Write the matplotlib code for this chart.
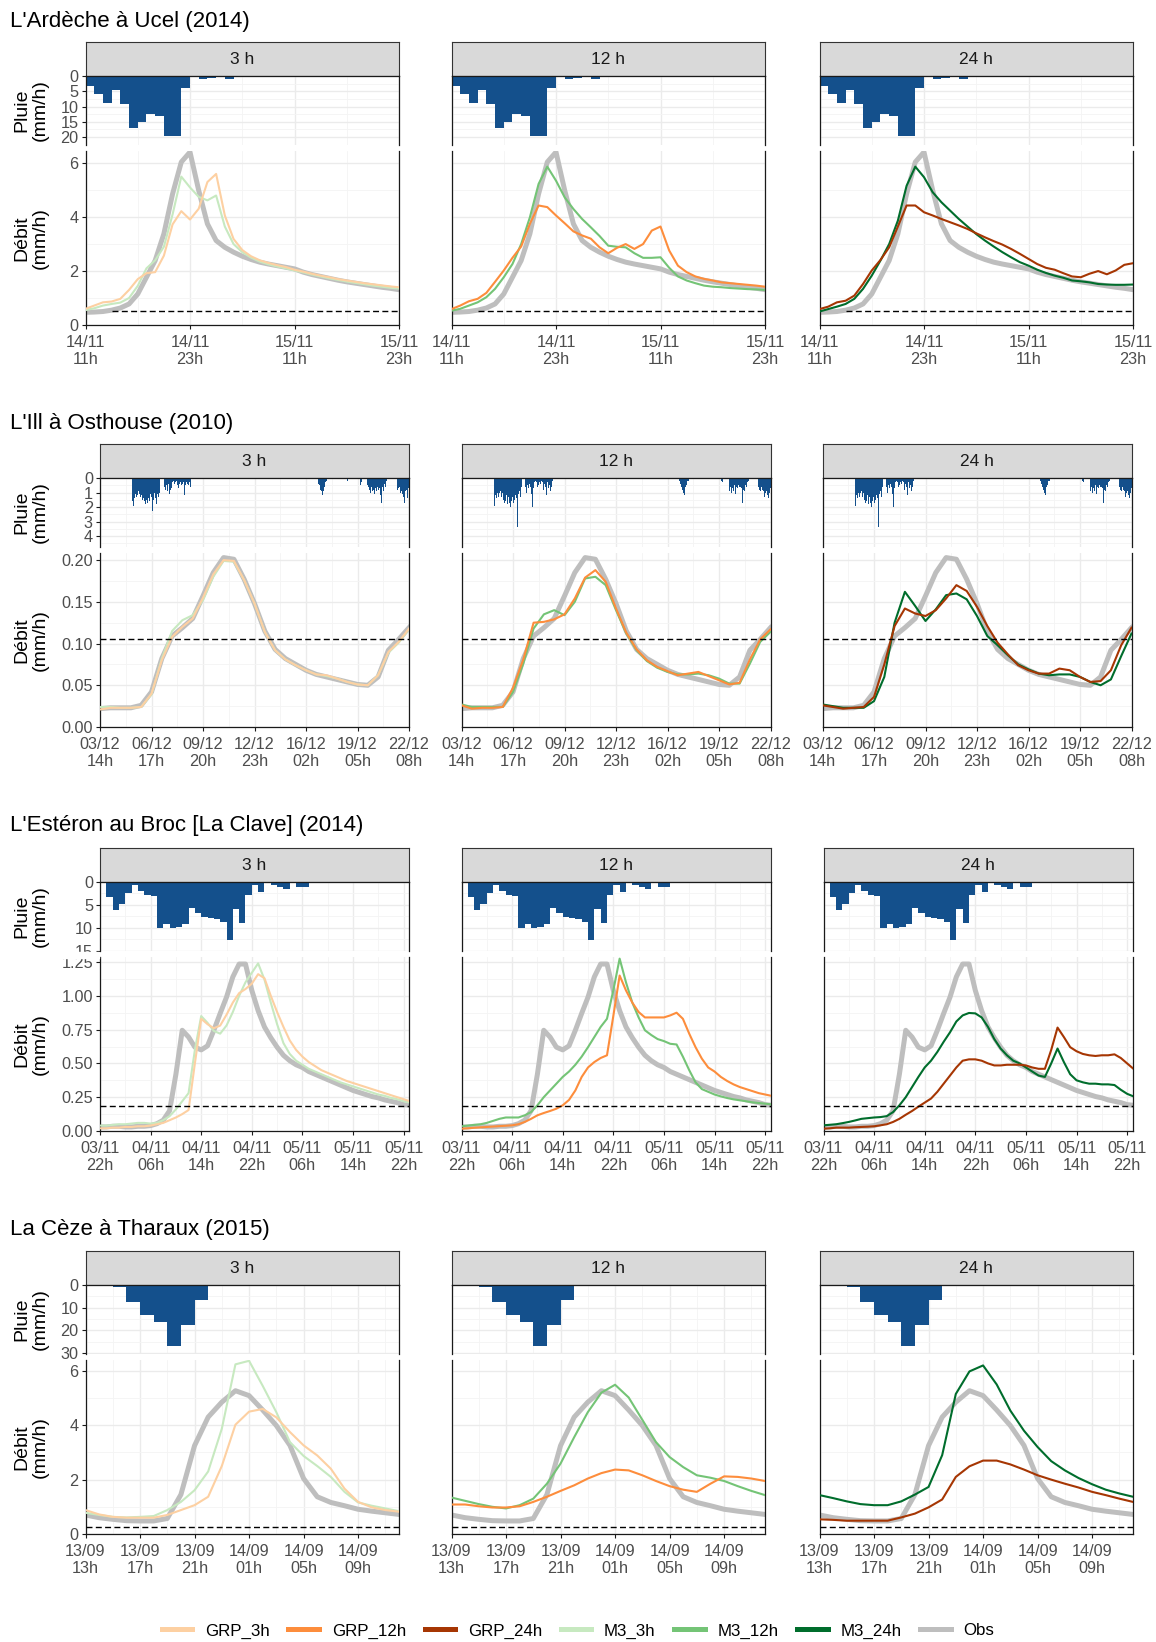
import numpy as np
import matplotlib
matplotlib.use("Agg")
import matplotlib.pyplot as plt
from matplotlib.lines import Line2D
from matplotlib.patches import Rectangle

plt.rcParams['font.family'] = ['Liberation Sans', 'DejaVu Sans']

W, H = 1156, 1642
TXT = '#4D4D4D'
AX = '#1A1A1A'
RAIN_COL = '#14508C'

colours = {'GRP_3h': '#FDD0A2', 'GRP_12h': '#FD8D3C', 'GRP_24h': '#A63603',
           'M3_3h': '#C7E9C0', 'M3_12h': '#74C476', 'M3_24h': '#006D2C',
           'Obs': '#BEBEBE'}
durations = ['3 h', '12 h', '24 h']
model_keys = [('M3_3h', 'GRP_3h'), ('M3_12h', 'GRP_12h'), ('M3_24h', 'GRP_24h')]

# ---------------- L'Ardèche à Ucel (2014), pas horaire depuis 14/11 11h
ard_xticks = [0, 12, 24, 36]
ard_xlabels = ['14/11\n11h', '14/11\n23h', '15/11\n11h', '15/11\n23h']
ard_rain = [3.4, 6.0, 9.0, 4.5, 9.3, 17.0, 15.0, 12.5, 13.0, 19.7, 19.7, 3.8,
            0, 1.1, 0.8, 0, 0.9, 0, 0, 0, 0, 0, 0, 0, 0, 0, 0, 0, 0, 0, 0, 0, 0, 0, 0, 0]
ard_obs = [0.47, 0.48, 0.50, 0.55, 0.63, 0.78, 1.15, 1.77, 2.39, 3.38, 4.86, 6.04, 6.41,
           4.99, 3.75, 3.13, 2.88, 2.70, 2.55, 2.43, 2.33, 2.26, 2.20, 2.14, 2.08, 1.96,
           1.87, 1.80, 1.73, 1.66, 1.60, 1.55, 1.50, 1.45, 1.40, 1.36, 1.31]
ard_grp_3h = [0.60, 0.72, 0.84, 0.87, 0.97, 1.30, 1.70, 1.92, 1.96, 2.57, 3.73, 4.22, 3.91,
              4.31, 5.30, 5.60, 4.06, 3.19, 2.78, 2.55, 2.40, 2.30, 2.22, 2.15, 2.05, 1.98,
              1.90, 1.83, 1.77, 1.70, 1.65, 1.60, 1.55, 1.51, 1.47, 1.43, 1.40]
ard_m3_3h = [0.55, 0.62, 0.72, 0.78, 0.83, 1.00, 1.45, 2.10, 2.40, 2.90, 4.10, 5.50, 5.10,
             4.75, 4.62, 4.80, 3.65, 3.00, 2.70, 2.50, 2.35, 2.25, 2.17, 2.10, 2.02, 1.95,
             1.87, 1.80, 1.73, 1.67, 1.61, 1.56, 1.51, 1.46, 1.42, 1.38, 1.35]
ard_grp_12h = [0.59, 0.72, 0.88, 0.97, 1.19, 1.60, 2.02, 2.49, 2.91, 3.75, 4.43, 4.37, 4.06,
               3.77, 3.47, 3.32, 3.20, 2.88, 2.66, 2.86, 3.00, 2.82, 3.00, 3.50, 3.65, 2.76,
               2.20, 1.96, 1.80, 1.71, 1.65, 1.58, 1.55, 1.52, 1.49, 1.46, 1.42]
ard_m3_12h = [0.53, 0.60, 0.72, 0.84, 1.03, 1.34, 1.77, 2.26, 3.00, 3.99, 5.23, 5.87, 5.35,
              4.73, 4.30, 3.93, 3.62, 3.30, 2.94, 2.90, 2.88, 2.66, 2.49, 2.49, 2.51, 2.12,
              1.80, 1.65, 1.55, 1.46, 1.42, 1.40, 1.37, 1.35, 1.33, 1.32, 1.30]
ard_grp_24h = [0.59, 0.68, 0.84, 0.90, 1.09, 1.52, 2.02, 2.41, 2.88, 3.65, 4.43, 4.43, 4.18,
               4.06, 3.93, 3.81, 3.69, 3.56, 3.40, 3.25, 3.11, 2.98, 2.82, 2.64, 2.45, 2.26,
               2.12, 2.05, 1.92, 1.80, 1.77, 1.90, 2.00, 1.88, 2.02, 2.23, 2.29]
ard_m3_24h = [0.50, 0.59, 0.68, 0.78, 0.97, 1.34, 1.83, 2.39, 3.00, 3.87, 5.16, 5.87, 5.48,
              4.92, 4.55, 4.24, 3.93, 3.65, 3.37, 3.13, 2.91, 2.70, 2.51, 2.33, 2.20, 2.05,
              1.93, 1.83, 1.75, 1.65, 1.62, 1.58, 1.52, 1.50, 1.49, 1.49, 1.50]
ard_seuil, ard_seuil_debut = 0.51, 3

# ---------------- L'Ill à Osthouse (2010), débits tous les 15 h depuis 03/12 14h
ill_xticks = [0, 75, 150, 225, 300, 375, 450]
ill_xlabels = ['03/12\n14h', '06/12\n17h', '09/12\n20h', '12/12\n23h',
               '16/12\n02h', '19/12\n05h', '22/12\n08h']
ill_rain_start = [47, 93, 106, 163, 219, 253, 316, 340, 358, 378, 389, 432]
ill_rain_bursts = [
    [1.6, 1.9, 1.2, 1.4, 1.1, 1.0, 1.3, 1.2, 1.0, 0.9, 1.1, 1.3, 1.0, 1.2, 1.5, 1.7, 1.4,
     1.6, 1.2, 1.8, 1.5, 1.3, 1.7, 1.4, 2.0, 1.6, 1.1, 1.3, 1.7, 2.3, 1.5, 1.2, 1.0, 1.4,
     3.4, 1.8, 1.1, 0.9, 1.3, 1.0, 0.6],
    [0.6, 1.0, 0.8, 0.5, 0.7, 0.9, 0.4, 0.6, 1.1, 0.8, 2.0, 0.7, 0.3],
    [0.3, 0.2, 0.4, 0.3, 0.6, 0.2, 0.5, 0.3, 0.7, 0.4, 0.2, 0.3, 0.5, 0.8, 0.4, 0.3, 0.6,
     1.2, 0.5, 0.3, 0.7, 0.4, 0.5, 0.9, 0.3, 0.6, 0.2, 0.1],
    [0.05, 0.1],
    [0.05, 0.08],
    [0.06],
    [0.1, 0.2, 0.4, 0.5, 0.6, 0.8, 0.9, 1.0, 1.2, 0.9, 0.6, 0.5, 0.3, 0.2, 0.2, 0.1, 0.1,
     0.05, 0.1, 0.05, 0.05],
    [0.05, 0.05, 0.08],
    [0.1, 0.1, 0.2, 0.1, 0.1],
    [0.2, 0.5, 0.3, 0.1],
    [0.5, 0.9, 0.6, 0.8, 1.0, 0.7, 0.6, 0.9, 0.5, 0.8, 1.1, 0.6, 0.7, 0.9, 0.5, 0.6, 0.8,
     0.6, 0.7, 1.2, 1.7, 0.8, 0.6, 0.9, 0.5, 0.4, 0.6, 0.3, 0.2, 0.1],
    [0.6, 0.8, 0.7, 0.9, 0.6, 1.0, 0.8, 0.9, 1.1, 1.3, 1.0, 1.7, 0.9, 1.2, 0.8, 1.4, 1.0, 0.7],
]
ill_rain_hours = 450
ill_obs = [0.022, 0.023, 0.023, 0.023, 0.026, 0.042, 0.082, 0.109, 0.119, 0.130, 0.157,
           0.185, 0.203, 0.201, 0.177, 0.148, 0.115, 0.093, 0.082, 0.075, 0.068, 0.063,
           0.060, 0.057, 0.054, 0.051, 0.050, 0.060, 0.092, 0.105, 0.119]
ill_grp_3h = [0.021, 0.023, 0.023, 0.023, 0.024, 0.040, 0.080, 0.108, 0.120, 0.130, 0.155,
              0.183, 0.200, 0.199, 0.176, 0.148, 0.114, 0.092, 0.081, 0.074, 0.068, 0.063,
              0.062, 0.058, 0.054, 0.051, 0.050, 0.062, 0.090, 0.102, 0.118]
ill_m3_3h = [0.024, 0.024, 0.023, 0.023, 0.024, 0.039, 0.082, 0.115, 0.128, 0.134, 0.152,
             0.180, 0.199, 0.198, 0.176, 0.148, 0.114, 0.092, 0.081, 0.074, 0.068, 0.063,
             0.061, 0.058, 0.054, 0.051, 0.050, 0.062, 0.089, 0.101, 0.117]
ill_grp_12h = [0.026, 0.022, 0.023, 0.023, 0.024, 0.047, 0.081, 0.125, 0.126, 0.129, 0.135,
               0.154, 0.179, 0.188, 0.174, 0.142, 0.113, 0.093, 0.080, 0.072, 0.067, 0.062,
               0.064, 0.066, 0.061, 0.056, 0.051, 0.053, 0.081, 0.105, 0.117]
ill_m3_12h = [0.027, 0.024, 0.024, 0.024, 0.024, 0.042, 0.076, 0.118, 0.135, 0.140, 0.134,
              0.150, 0.178, 0.180, 0.170, 0.140, 0.112, 0.092, 0.079, 0.071, 0.066, 0.063,
              0.063, 0.064, 0.062, 0.058, 0.052, 0.052, 0.076, 0.102, 0.114]
ill_grp_24h = [0.026, 0.024, 0.022, 0.023, 0.024, 0.036, 0.075, 0.121, 0.142, 0.136, 0.133,
               0.140, 0.154, 0.170, 0.163, 0.144, 0.121, 0.101, 0.087, 0.074, 0.068, 0.064,
               0.064, 0.070, 0.068, 0.060, 0.054, 0.055, 0.068, 0.098, 0.119]
ill_m3_24h = [0.027, 0.025, 0.023, 0.023, 0.023, 0.031, 0.060, 0.125, 0.162, 0.145, 0.127,
              0.141, 0.158, 0.160, 0.153, 0.133, 0.109, 0.098, 0.086, 0.075, 0.069, 0.064,
              0.062, 0.063, 0.063, 0.060, 0.054, 0.050, 0.057, 0.085, 0.112]
ill_seuil, ill_seuil_debut = 0.106, 0

# ---------------- L'Estéron au Broc [La Clave] (2014), pas horaire depuis 03/11 22h
est_xticks = [0, 8, 16, 24, 32, 40, 48]
est_xlabels = ['03/11\n22h', '04/11\n06h', '04/11\n14h', '04/11\n22h',
               '05/11\n06h', '05/11\n14h', '05/11\n22h']
est_rain = [0, 3.2, 6.2, 4.9, 2.3, 0.7, 2.0, 2.75, 3.0, 10.0, 9.1, 10.1, 9.9, 9.3, 5.6,
            6.8, 7.7, 7.9, 8.1, 8.8, 12.8, 5.9, 9.0, 2.8, 0.6, 2.1, 0, 0.65, 1.0, 1.45,
            0.15, 1.0, 1.2, 0, 0, 0, 0, 0, 0, 0, 0, 0, 0, 0, 0, 0, 0, 0, 0]
est_obs = [0.03, 0.03, 0.035, 0.035, 0.03, 0.03, 0.035, 0.035, 0.04, 0.054, 0.08, 0.15,
           0.42, 0.745, 0.695, 0.62, 0.60, 0.63, 0.745, 0.87, 0.99, 1.14, 1.235, 1.235,
           1.04, 0.89, 0.77, 0.69, 0.62, 0.56, 0.52, 0.49, 0.47, 0.44, 0.42, 0.40, 0.38,
           0.36, 0.34, 0.32, 0.30, 0.285, 0.27, 0.255, 0.245, 0.23, 0.22, 0.21, 0.195, 0.19]
est_grp_3h = [0.02, 0.02, 0.025, 0.025, 0.03, 0.03, 0.035, 0.035, 0.04, 0.05, 0.06, 0.08,
              0.10, 0.125, 0.155, 0.50, 0.83, 0.79, 0.76, 0.78, 0.86, 0.95, 1.02, 1.05,
              1.09, 1.16, 1.13, 1.0, 0.88, 0.77, 0.67, 0.60, 0.55, 0.51, 0.48, 0.45, 0.43,
              0.41, 0.39, 0.37, 0.355, 0.34, 0.325, 0.31, 0.295, 0.28, 0.265, 0.25, 0.235, 0.22]
est_m3_3h = [0.04, 0.04, 0.045, 0.05, 0.05, 0.055, 0.06, 0.06, 0.055, 0.06, 0.08, 0.11,
             0.16, 0.22, 0.28, 0.60, 0.85, 0.80, 0.74, 0.72, 0.78, 0.88, 1.00, 1.10, 1.17,
             1.24, 1.12, 0.95, 0.79, 0.65, 0.57, 0.52, 0.49, 0.46, 0.44, 0.42, 0.40, 0.38,
             0.36, 0.345, 0.33, 0.315, 0.30, 0.285, 0.27, 0.26, 0.245, 0.235, 0.22, 0.21]
est_grp_12h = [0.017, 0.02, 0.024, 0.027, 0.03, 0.033, 0.036, 0.039, 0.042, 0.05, 0.067,
               0.09, 0.116, 0.133, 0.148, 0.165, 0.19, 0.23, 0.30, 0.40, 0.47, 0.51, 0.54,
               0.56, 0.85, 1.15, 1.04, 0.95, 0.88, 0.84, 0.84, 0.84, 0.84, 0.855, 0.875,
               0.83, 0.72, 0.62, 0.535, 0.47, 0.44, 0.40, 0.37, 0.345, 0.325, 0.31, 0.295,
               0.28, 0.27, 0.26]
est_m3_12h = [0.035, 0.04, 0.045, 0.05, 0.06, 0.075, 0.09, 0.10, 0.10, 0.10, 0.116, 0.14,
              0.19, 0.25, 0.30, 0.35, 0.40, 0.44, 0.49, 0.55, 0.62, 0.695, 0.77, 0.83, 1.04,
              1.275, 1.10, 0.95, 0.84, 0.745, 0.71, 0.68, 0.665, 0.645, 0.64, 0.55, 0.45,
              0.36, 0.31, 0.29, 0.27, 0.256, 0.244, 0.234, 0.227, 0.22, 0.212, 0.207, 0.202, 0.197]
est_grp_24h = [0.017, 0.02, 0.025, 0.025, 0.025, 0.028, 0.03, 0.032, 0.035, 0.042, 0.05,
               0.067, 0.09, 0.12, 0.148, 0.18, 0.21, 0.24, 0.29, 0.35, 0.41, 0.47, 0.52,
               0.53, 0.53, 0.52, 0.50, 0.485, 0.485, 0.49, 0.49, 0.49, 0.485, 0.47, 0.46,
               0.46, 0.60, 0.765, 0.695, 0.62, 0.59, 0.57, 0.56, 0.555, 0.56, 0.56, 0.567,
               0.54, 0.50, 0.46]
est_m3_24h = [0.042, 0.046, 0.05, 0.058, 0.067, 0.078, 0.09, 0.095, 0.10, 0.103, 0.11, 0.14,
              0.19, 0.25, 0.325, 0.40, 0.47, 0.52, 0.585, 0.66, 0.73, 0.81, 0.855, 0.873,
              0.87, 0.84, 0.77, 0.68, 0.61, 0.56, 0.52, 0.50, 0.47, 0.44, 0.41, 0.40, 0.50,
              0.61, 0.51, 0.42, 0.375, 0.36, 0.35, 0.35, 0.345, 0.345, 0.34, 0.305, 0.275, 0.256]
est_seuil, est_seuil_debut = 0.185, 0

# ---------------- La Cèze à Tharaux (2015), pas horaire depuis 13/09 13h
cez_xticks = [0, 4, 8, 12, 16, 20]
cez_xlabels = ['13/09\n13h', '13/09\n17h', '13/09\n21h', '14/09\n01h', '14/09\n05h', '14/09\n09h']
cez_rain = [0, 0, 0.9, 7.3, 13.0, 16.3, 27.0, 17.8, 6.4, 0, 0, 0, 0, 0, 0, 0, 0, 0, 0, 0, 0, 0, 0]
cez_obs = [0.70, 0.60, 0.54, 0.49, 0.48, 0.48, 0.57, 1.45, 3.25, 4.30, 4.85, 5.27, 5.09,
           4.56, 3.99, 3.26, 2.04, 1.37, 1.16, 1.04, 0.91, 0.84, 0.78, 0.72]
cez_grp_3h = [0.88, 0.72, 0.63, 0.60, 0.60, 0.60, 0.70, 0.88, 1.06, 1.37, 2.50, 4.02, 4.50,
              4.60, 4.29, 3.75, 3.26, 2.89, 2.40, 1.67, 1.18, 0.98, 0.88, 0.82]
cez_m3_3h = [0.78, 0.70, 0.63, 0.61, 0.63, 0.66, 0.88, 1.18, 1.61, 2.30, 3.87, 6.24, 6.37,
             5.45, 4.48, 3.38, 2.87, 2.50, 2.10, 1.55, 1.16, 1.04, 0.94, 0.84]
cez_grp_12h = [1.085, 1.085, 1.02, 0.975, 0.975, 1.02, 1.18, 1.37, 1.585, 1.79, 2.04, 2.24,
               2.37, 2.34, 2.16, 1.95, 1.76, 1.63, 1.55, 1.85, 2.12, 2.10, 2.04, 1.95]
cez_m3_12h = [1.34, 1.22, 1.10, 1.00, 0.94, 1.06, 1.30, 1.85, 2.59, 3.56, 4.48, 5.20, 5.49,
              5.02, 4.20, 3.38, 2.83, 2.46, 2.16, 2.07, 1.95, 1.76, 1.585, 1.43]
cez_grp_24h = [0.54, 0.52, 0.49, 0.49, 0.49, 0.49, 0.61, 0.75, 0.98, 1.27, 2.10, 2.49, 2.70,
               2.70, 2.56, 2.37, 2.16, 2.00, 1.85, 1.71, 1.55, 1.43, 1.30, 1.18]
cez_m3_24h = [1.43, 1.32, 1.20, 1.10, 1.06, 1.06, 1.20, 1.45, 1.73, 2.90, 5.15, 5.98, 6.20,
              5.50, 4.54, 3.80, 3.20, 2.68, 2.34, 2.06, 1.83, 1.63, 1.49, 1.37]
cez_seuil, cez_seuil_debut = 0.26, 0


def build_ill_rain():
    rain = np.zeros(ill_rain_hours)
    for start, vals in zip(ill_rain_start, ill_rain_bursts):
        rain[start:start + len(vals)] = vals
    return rain


sections = [
    dict(title="L'Ardèche à Ucel (2014)", title_y=21, top=42, lefts=[85.5, 451.5, 819.5], width=313.5,
         step=1, xmax=36, xticks=ard_xticks, xlabels=ard_xlabels,
         rain=ard_rain, rain_max=22.6, rain_ticks=[0, 5, 10, 15, 20],
         q_max=6.45, q_ticks=[0, 2, 4, 6], q_fmt='{:g}', seuil=ard_seuil, seuil_debut=ard_seuil_debut,
         obs=ard_obs, models={'GRP_3h': ard_grp_3h, 'GRP_12h': ard_grp_12h, 'GRP_24h': ard_grp_24h,
                              'M3_3h': ard_m3_3h, 'M3_12h': ard_m3_12h, 'M3_24h': ard_m3_24h}),
    dict(title="L'Ill à Osthouse (2010)", title_y=424, top=444, lefts=[100, 461.5, 822.5], width=309,
         step=15, xmax=450, xticks=ill_xticks, xlabels=ill_xlabels,
         rain=build_ill_rain(), rain_max=4.75, rain_ticks=[0, 1, 2, 3, 4],
         q_max=0.2085, q_ticks=[0, 0.05, 0.10, 0.15, 0.20], q_fmt='{:.2f}',
         seuil=ill_seuil, seuil_debut=ill_seuil_debut,
         obs=ill_obs, models={'GRP_3h': ill_grp_3h, 'GRP_12h': ill_grp_12h, 'GRP_24h': ill_grp_24h,
                              'M3_3h': ill_m3_3h, 'M3_12h': ill_m3_12h, 'M3_24h': ill_m3_24h}),
    dict(title="L'Estéron au Broc [La Clave] (2014)", title_y=826, top=848, lefts=[100, 461.5, 823.5],
         width=309, step=1, xmax=48.85, xticks=est_xticks, xlabels=est_xlabels,
         rain=est_rain, rain_max=15.1, rain_ticks=[0, 5, 10, 15],
         q_max=1.287, q_ticks=[0, 0.25, 0.5, 0.75, 1.0, 1.25], q_fmt='{:.2f}',
         seuil=est_seuil, seuil_debut=est_seuil_debut,
         obs=est_obs, models={'GRP_3h': est_grp_3h, 'GRP_12h': est_grp_12h, 'GRP_24h': est_grp_24h,
                              'M3_3h': est_m3_3h, 'M3_12h': est_m3_12h, 'M3_24h': est_m3_24h}),
    dict(title="La Cèze à Tharaux (2015)", title_y=1229, top=1251, lefts=[85.5, 451.5, 819.5], width=313.5,
         step=1, xmax=23, xticks=cez_xticks, xlabels=cez_xlabels,
         rain=cez_rain, rain_max=30.4, rain_ticks=[0, 10, 20, 30],
         q_max=6.4, q_ticks=[0, 2, 4, 6], q_fmt='{:g}', seuil=cez_seuil, seuil_debut=cez_seuil_debut,
         obs=cez_obs, models={'GRP_3h': cez_grp_3h, 'GRP_12h': cez_grp_12h, 'GRP_24h': cez_grp_24h,
                              'M3_3h': cez_m3_3h, 'M3_12h': cez_m3_12h, 'M3_24h': cez_m3_24h}),
]

STRIP_H, RAIN_H, GAP, Q_H = 34, 69, 6, 174

fig = plt.figure(figsize=(W / 100, H / 100), dpi=100)


def px_axes(left, top, width, height):
    return fig.add_axes([left / W, 1 - (top + height) / H, width / W, height / H])


def midpoints(ticks, vmax):
    step = ticks[1] - ticks[0]
    mids = [t + step / 2 for t in ticks]
    return [m for m in mids if m <= vmax]


def grid_setup(ax, xticks, xmax, yticks, ymax):
    ax.set_xticks(xticks)
    ax.set_xticks(midpoints(xticks, xmax), minor=True)
    ax.set_yticks(yticks)
    ax.set_yticks(midpoints(yticks, ymax), minor=True)
    ax.grid(which='major', color='#EBEBEB', lw=1.0)
    ax.grid(which='minor', color='#F4F4F4', lw=0.6)
    ax.set_axisbelow(True)
    ax.tick_params(which='minor', length=0)


for sec in sections:
    top = sec['top']
    width = sec['width']
    fig.text(10 / W, 1 - sec['title_y'] / H, sec['title'], fontsize=16, va='center', ha='left',
             color='black')
    t = np.arange(len(sec['obs'])) * sec['step']
    edges = np.arange(len(sec['rain']) + 1)

    for j, left in enumerate(sec['lefts']):
        # bandeau de durée
        st = px_axes(left, top, width, STRIP_H)
        st.set_facecolor('#D9D9D9')
        st.set_xticks([])
        st.set_yticks([])
        for sp in st.spines.values():
            sp.set_color('#333333')
            sp.set_linewidth(0.8)
        st.text(0.5, 0.5, durations[j], ha='center', va='center', fontsize=12.5, color='#1A1A1A',
                transform=st.transAxes)

        # pluie
        ra = px_axes(left, top + STRIP_H, width, RAIN_H)
        ra.stairs(sec['rain'], edges, fill=True, color=RAIN_COL, lw=0)
        ra.set_xlim(0, sec['xmax'])
        ra.set_ylim(sec['rain_max'], 0)
        grid_setup(ra, sec['xticks'], sec['xmax'], sec['rain_ticks'], sec['rain_max'])
        ra.spines['bottom'].set_visible(False)
        for s in ['top', 'left', 'right']:
            ra.spines[s].set_color(AX)
            ra.spines[s].set_linewidth(0.9)
        ra.tick_params(axis='x', which='both', length=0, labelbottom=False)
        if j == 0:
            ra.set_yticklabels(['{:g}'.format(v) for v in sec['rain_ticks']])
            ra.tick_params(axis='y', which='major', length=2.9, width=0.8, color=AX,
                           labelsize=11.7, labelcolor=TXT, pad=2.2)
        else:
            ra.tick_params(axis='y', which='both', length=0, labelleft=False)

        # débit
        qa = px_axes(left, top + STRIP_H + RAIN_H + GAP, width, Q_H)
        qa.plot(t, sec['obs'], color=colours['Obs'], lw=3.6, solid_joinstyle='round', zorder=2)
        m3_key, grp_key = model_keys[j]
        qa.plot(t, sec['models'][m3_key], color=colours[m3_key], lw=1.5, zorder=3)
        qa.plot(t, sec['models'][grp_key], color=colours[grp_key], lw=1.5, zorder=4)
        qa.hlines(sec['seuil'], sec['seuil_debut'], t[-1], colors='black', lw=1.0,
                  linestyles=(0, (4.3, 2.4)), zorder=5)
        qa.set_xlim(0, sec['xmax'])
        qa.set_ylim(0, sec['q_max'])
        grid_setup(qa, sec['xticks'], sec['xmax'], sec['q_ticks'], sec['q_max'])
        qa.spines['top'].set_visible(False)
        for s in ['bottom', 'left', 'right']:
            qa.spines[s].set_color(AX)
            qa.spines[s].set_linewidth(0.9)
        qa.set_xticklabels(sec['xlabels'])
        qa.tick_params(axis='x', which='major', length=2.9, width=0.8, color=AX,
                       labelsize=11.7, labelcolor=TXT, pad=4.5)
        for lbl in qa.get_xticklabels():
            lbl.set_linespacing(1.15)
        if j == 0:
            qa.set_yticklabels([sec['q_fmt'].format(v) for v in sec['q_ticks']])
            qa.tick_params(axis='y', which='major', length=2.9, width=0.8, color=AX,
                           labelsize=11.7, labelcolor=TXT, pad=2.2)
        else:
            qa.tick_params(axis='y', which='both', length=0, labelleft=False)

    # titres d'axes
    fig.text(31 / W, 1 - (top + STRIP_H + RAIN_H / 2) / H, 'Pluie\n(mm/h)', rotation=90,
             ha='center', va='center', fontsize=14, linespacing=1.05, multialignment='center')
    fig.text(31 / W, 1 - (top + STRIP_H + RAIN_H + GAP + Q_H / 2) / H, 'Débit\n(mm/h)', rotation=90,
             ha='center', va='center', fontsize=14, linespacing=1.05, multialignment='center')

# la graduation "15" de l'Estéron est rognée par le panneau du dessous
sec3 = sections[2]
y_cut = sec3['top'] + STRIP_H + RAIN_H + 1.5
fig.patches.append(Rectangle((40 / W, 1 - (y_cut + GAP) / H), (sec3['lefts'][0] - 41) / W, GAP / H,
                             transform=fig.transFigure, color='white', zorder=10))

legend_names = ['GRP_3h', 'GRP_12h', 'GRP_24h', 'M3_3h', 'M3_12h', 'M3_24h', 'Obs']
handles = [Line2D([], [], color=colours[k], lw=3.6) for k in legend_names]
fig.legend(handles, legend_names, loc='center', bbox_to_anchor=(578 / W, 1 - 1631 / H), ncol=7,
           frameon=False, fontsize=12.2, handlelength=1.8, handletextpad=0.75, columnspacing=1.1)

fig.savefig('out.png', dpi=100, facecolor='white')
